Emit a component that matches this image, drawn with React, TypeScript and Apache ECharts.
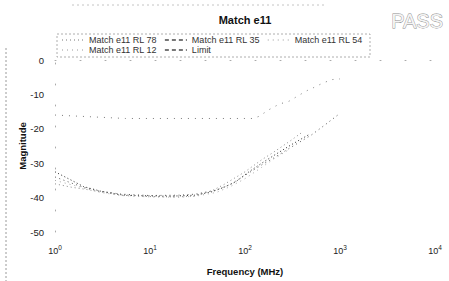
import React, { useEffect, useRef } from "react";
import * as echarts from "echarts";

const chartTitle = "Match e11";
const passText = "PASS";
const xAxisName = "Frequency (MHz)";
const yAxisName = "Magnitude";
const seriesNames = ["Match e11 RL 78", "Match e11 RL 35", "Match e11 RL 54", "Match e11 RL 12", "Limit"];

// Frequency (MHz) / magnitude (dB)
const freqRL78 = [1, 1.5, 2, 3, 5, 7, 10, 16, 30, 45, 60, 80, 110, 150, 200, 300, 400, 470];
const magRL78 = [-32.5, -35, -36.8, -38.1, -39.2, -39.4, -39.5, -39.6, -39.3, -38.3, -37, -35.4, -32.5, -30, -27.8, -24.8, -22.8, -21.7];

const freqRL35 = [1, 1.5, 2, 3, 5, 10, 20, 30, 45, 60, 100, 150, 200, 300, 400];
const magRL35 = [-36, -37, -37.5, -38.3, -39.3, -39.7, -39.8, -39.5, -38, -36.2, -32.5, -29, -26.8, -23.5, -21];

const freqRL54 = [1, 1.5, 2, 3, 5, 10, 20, 30, 50, 70, 100, 150, 200, 300, 500, 700, 1000];
const magRL54 = [-34, -35.8, -37, -38.2, -39, -39.4, -39.3, -39, -37.8, -36.2, -33.5, -30.5, -28.5, -25.5, -21.8, -18.8, -15.5];

const freqRL12 = [1, 2, 3, 5, 10, 20, 30, 50, 70, 100, 150, 200, 300];
const magRL12 = [-35, -37.2, -38.5, -39.4, -39.8, -39.9, -39.6, -38.5, -36.8, -34.5, -31.2, -28.8, -25.8];

const freqLimit = [1, 5.5, 10, 122, 140, 180, 230, 290, 400, 450, 530, 660, 820, 1000];
const magLimit = [-16, -17, -17, -17, -16.4, -14.4, -12.8, -12, -9.7, -8.9, -8, -6.7, -5.7, -5.5];

const yMin = -50;
const yMax = 0;
const yInterval = 10;
const xMin = 1;
const xMax = 10000;

const FONT = "Liberation Sans, Arial, sans-serif";

export default function App() {
  const ref = useRef<HTMLDivElement>(null);

  useEffect(() => {
    if (!ref.current) return;
    const chart = echarts.init(ref.current, null, { renderer: "svg" });
    const pair = (f: number[], m: number[]) => f.map((x, i) => [x, m[i]]);

    const seriesDefs = [
      { name: seriesNames[0], data: pair(freqRL78, magRL78), color: "#2a2a2a", dash: [1, 2.5] },
      { name: seriesNames[1], data: pair(freqRL35, magRL35), color: "#8a8a8a", dash: [1, 3] },
      { name: seriesNames[2], data: pair(freqRL54, magRL54), color: "#5a5a5a", dash: [1, 3.5] },
      { name: seriesNames[3], data: pair(freqRL12, magRL12), color: "#a8a8a8", dash: [1, 4] },
      { name: seriesNames[4], data: pair(freqLimit, magLimit), color: "#7a7a7a", dash: [1, 6] },
    ];

    const legendBase = {
      left: 61,
      padding: 0,
      itemWidth: 22,
      itemHeight: 8,
      itemGap: 7,
      itemStyle: { opacity: 0 },
      textStyle: { fontSize: 9, color: "#333", fontFamily: FONT },
    };

    chart.setOption({
      animation: false,
      backgroundColor: "#ffffff",
      textStyle: { fontFamily: FONT },
      grid: { left: 55, right: 14, top: 60, bottom: 40, containLabel: false },
      legend: [
        {
          ...legendBase,
          top: 35.5,
          data: [
            { name: seriesNames[0], lineStyle: { type: [1, 3], color: "#bbb" } },
            { name: seriesNames[1], lineStyle: { type: [4, 3], color: "#777" } },
            { name: seriesNames[2], lineStyle: { type: [1, 4], color: "#ccc" } },
          ],
        },
        {
          ...legendBase,
          top: 45.5,
          data: [
            { name: seriesNames[3], lineStyle: { type: [1, 4], color: "#ccc" } },
            { name: seriesNames[4], lineStyle: { type: [4, 3], color: "#777" } },
          ],
        },
      ],
      xAxis: {
        type: "log",
        logBase: 10,
        min: xMin,
        max: xMax,
        name: xAxisName,
        nameLocation: "middle",
        nameGap: 34,
        nameMoveOverlap: false,
        nameTextStyle: { fontFamily: FONT, fontSize: 9.5, fontWeight: "bold", color: "#111" },
        axisLine: { show: true, lineStyle: { color: "#aaa", width: 1, type: [1, 24] } },
        axisTick: { show: false },
        splitLine: { show: false },
        axisLabel: {
          margin: 12,
          fontSize: 9,
          color: "#222",
          fontFamily: FONT,
          formatter: (v: number) => `10{s|${Math.round(Math.log10(v))}}`,
          rich: { s: { fontSize: 6.5, fontFamily: FONT, color: "#222", padding: [0, 0, 6, 0] } },
        },
      },
      yAxis: {
        type: "value",
        min: yMin,
        max: yMax,
        interval: yInterval,
        name: yAxisName,
        nameLocation: "middle",
        nameGap: 28,
        nameMoveOverlap: false,
        nameRotate: 90,
        nameTextStyle: { fontFamily: FONT, fontSize: 9.5, fontWeight: "bold", color: "#111" },
        axisLine: { show: true, lineStyle: { color: "#aaa", width: 1, type: [1, 20] } },
        axisTick: { show: false },
        splitLine: { show: false },
        axisLabel: { margin: 11, fontSize: 9.5, color: "#222", fontFamily: FONT },
      },
      series: seriesDefs.map((s) => ({
        type: "line",
        name: s.name,
        data: s.data,
        symbol: "none",
        color: s.color,
        lineStyle: { color: s.color, width: 1, type: s.dash },
        itemStyle: { color: s.color },
      })),
      graphic: [
        {
          type: "text",
          x: 245,
          y: 20,
          style: {
            text: chartTitle,
            font: `bold 11px ${FONT}`,
            fill: "#111",
            align: "center",
            verticalAlign: "middle",
          },
        },
        {
          type: "text",
          x: 443,
          y: 21,
          style: {
            text: passText,
            font: `20px ${FONT}`,
            fill: "#f4f4f4",
            stroke: "#8a8a8a",
            lineWidth: 0.8,
            align: "right",
            verticalAlign: "middle",
          },
        },
        {
          type: "rect",
          shape: { x: 57, y: 34, width: 313, height: 23 },
          style: { fill: "none", stroke: "#999", lineWidth: 0.8, lineDash: [2, 2] },
          silent: true,
          z: -1,
        },
        {
          type: "line",
          shape: { x1: 6, y1: 48, x2: 6, y2: 281 },
          style: { stroke: "#9a9a9a", lineWidth: 1, lineDash: [2, 2] },
          silent: true,
        },
        {
          type: "line",
          shape: { x1: 72, y1: 5, x2: 325, y2: 5 },
          style: { stroke: "#c4c4c4", lineWidth: 1, lineDash: [2, 3] },
          silent: true,
        },
      ],
    });

    return () => chart.dispose();
  }, []);

  return (
    <div
      ref={ref}
      style={{ position: "fixed", left: 0, top: 0, width: 449, height: 281, background: "#fff" }}
    />
  );
}
